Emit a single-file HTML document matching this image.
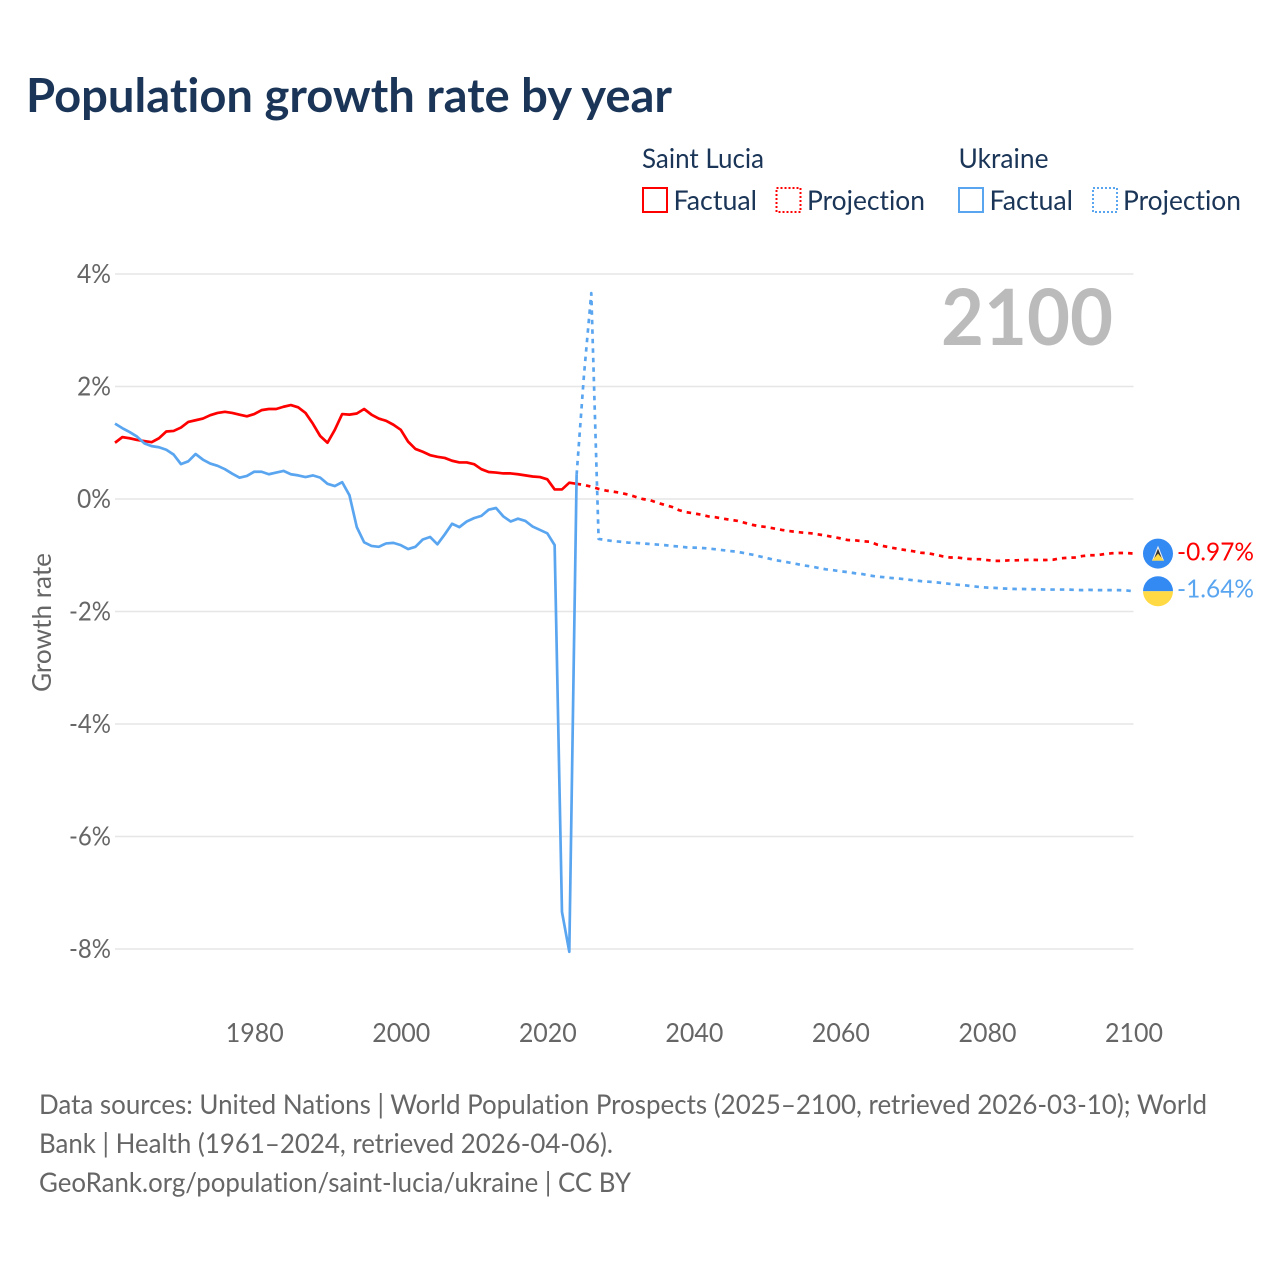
<!DOCTYPE html>
<html lang="en">
<head>
<meta charset="utf-8">
<title>Population growth rate by year</title>
<style>
html,body{margin:0;padding:0;background:#fff}
svg{display:block}
text{font-family:"Lato","Carlito","Liberation Sans",sans-serif;font-variant-ligatures:none;font-feature-settings:"liga" 0,"clig" 0}
</style>
</head>
<body>
<svg id="chart" xmlns="http://www.w3.org/2000/svg" width="1280" height="1280" viewBox="0 0 1280 1280">
  <rect x="0" y="0" width="1280" height="1280" fill="#ffffff"/>
  <text x="26" y="112" font-size="47" font-weight="700" fill="#1a3557" textLength="646" lengthAdjust="spacingAndGlyphs">Population growth rate by year</text>

  <g font-size="27" fill="#1a3557">
    <text x="642" y="168" textLength="122" lengthAdjust="spacingAndGlyphs">Saint Lucia</text>
    <rect x="643" y="188" width="24" height="24" fill="none" stroke="#ff0000" stroke-width="2"/>
    <text x="673.5" y="210" textLength="83.5" lengthAdjust="spacingAndGlyphs">Factual</text>
    <rect x="776.5" y="188" width="24" height="24" fill="none" stroke="#ff0000" stroke-width="2" stroke-dasharray="2 2"/>
    <text x="807" y="210" textLength="118" lengthAdjust="spacingAndGlyphs">Projection</text>
    <text x="958.5" y="168" textLength="90" lengthAdjust="spacingAndGlyphs">Ukraine</text>
    <rect x="959" y="188" width="24" height="24" fill="none" stroke="#5aa5f0" stroke-width="2"/>
    <text x="989.5" y="210" textLength="83.5" lengthAdjust="spacingAndGlyphs">Factual</text>
    <rect x="1093" y="188" width="24" height="24" fill="none" stroke="#5aa5f0" stroke-width="2" stroke-dasharray="2 2"/>
    <text x="1123" y="210" textLength="118" lengthAdjust="spacingAndGlyphs">Projection</text>
  </g>

  <g id="grid"></g>
  <g id="y-axis"></g>
  <g id="x-axis"></g>
  <text transform="translate(51,692) rotate(-90)" x="0" y="0" font-size="26" fill="#666666" textLength="139" lengthAdjust="spacingAndGlyphs">Growth rate</text>
  <text x="941" y="345" font-size="78" font-weight="700" fill="#bbbbbb" textLength="172" lengthAdjust="spacingAndGlyphs">2100</text>
  <g id="series"></g>
  <g id="end-labels"></g>

  <g font-size="27" fill="#666666">
    <text x="39" y="1114" textLength="1168" lengthAdjust="spacingAndGlyphs">Data sources: United Nations | World Population Prospects (2025–2100, retrieved 2026-03-10); World</text>
    <text x="39" y="1153" textLength="574" lengthAdjust="spacingAndGlyphs">Bank | Health (1961–2024, retrieved 2026-04-06).</text>
    <text x="39" y="1192" textLength="592" lengthAdjust="spacingAndGlyphs">GeoRank.org/population/saint-lucia/ukraine | CC BY</text>
  </g>
</svg>

<script>
const yTicks = [4, 2, 0, -2, -4, -6, -8];
const xTicks = [1980, 2000, 2020, 2040, 2060, 2080, 2100];
const factualStartYear = 1961;
const projectionStartYear = 2024;

const saintLuciaFactual = [
  1.00, 1.10, 1.08, 1.05, 1.03, 1.01, 1.08, 1.20, 1.21, 1.27,
  1.37, 1.40, 1.43, 1.49, 1.53, 1.55, 1.53, 1.50, 1.47, 1.51,
  1.58, 1.60, 1.60, 1.64, 1.67, 1.63, 1.53, 1.34, 1.12, 1.00,
  1.23, 1.51, 1.50, 1.52, 1.60, 1.50, 1.43, 1.39, 1.32, 1.23,
  1.02, 0.89, 0.84, 0.78, 0.75, 0.73, 0.68, 0.65, 0.65, 0.62,
  0.53, 0.48, 0.47, 0.455, 0.455, 0.44, 0.42, 0.40, 0.39, 0.35,
  0.17, 0.17, 0.29, 0.27
];
const ukraineFactual = [
  1.34, 1.26, 1.19, 1.11, 0.99, 0.94, 0.92, 0.875, 0.79, 0.62,
  0.67, 0.80, 0.70, 0.63, 0.59, 0.53, 0.45, 0.38, 0.41, 0.485,
  0.485, 0.44, 0.47, 0.50, 0.44, 0.42, 0.39, 0.42, 0.38, 0.27,
  0.23, 0.30, 0.065, -0.50, -0.77, -0.835, -0.85, -0.79, -0.78, -0.82,
  -0.89, -0.85, -0.72, -0.675, -0.805, -0.63, -0.44, -0.50, -0.40, -0.34,
  -0.30, -0.19, -0.16, -0.31, -0.40, -0.35, -0.39, -0.49, -0.55, -0.61,
  -0.82, -7.34, -8.05, 0.43
];
const saintLuciaProjection = [
  0.27, 0.25, 0.22, 0.18, 0.15, 0.13, 0.11, 0.08, 0.04, 0.00,
  -0.02, -0.065, -0.105, -0.14, -0.20, -0.235, -0.255, -0.28, -0.31, -0.325,
  -0.35, -0.37, -0.39, -0.425, -0.46, -0.485, -0.50, -0.525, -0.55, -0.57,
  -0.585, -0.60, -0.61, -0.63, -0.65, -0.675, -0.70, -0.73, -0.735, -0.75,
  -0.76, -0.81, -0.84, -0.866, -0.89, -0.91, -0.93, -0.955, -0.965, -0.99,
  -1.02, -1.04, -1.04, -1.06, -1.07, -1.07, -1.085, -1.10, -1.10, -1.09,
  -1.09, -1.085, -1.08, -1.085, -1.085, -1.08, -1.055, -1.045, -1.04, -1.015,
  -1.00, -1.00, -0.98, -0.965, -0.96, -0.96, -0.97
];
const ukraineProjection = [
  0.43, 2.2, 3.66, -0.71, -0.73, -0.75, -0.76, -0.775, -0.78, -0.79,
  -0.80, -0.81, -0.82, -0.835, -0.845, -0.86, -0.865, -0.87, -0.88, -0.895,
  -0.91, -0.925, -0.94, -0.965, -0.99, -1.02, -1.05, -1.085, -1.105, -1.13,
  -1.155, -1.18, -1.20, -1.225, -1.25, -1.265, -1.285, -1.30, -1.32, -1.335,
  -1.36, -1.38, -1.39, -1.405, -1.415, -1.43, -1.445, -1.46, -1.47, -1.48,
  -1.495, -1.51, -1.525, -1.535, -1.55, -1.565, -1.575, -1.58, -1.59, -1.595,
  -1.60, -1.60, -1.605, -1.605, -1.61, -1.61, -1.61, -1.61, -1.615, -1.62,
  -1.615, -1.62, -1.62, -1.62, -1.62, -1.625, -1.64
];

const SVG_NS = 'http://www.w3.org/2000/svg';
const plotLeft = 115;
const plotRight = 1133.5;
const xScale = function (year) {
  return plotLeft + (year - 1961) * (plotRight - plotLeft) / (2100 - 1961);
};
const yScale = function (value) {
  return 499 - value * 56.25;
};

function svgEl(tag, attrs, parent) {
  const el = document.createElementNS(SVG_NS, tag);
  Object.keys(attrs).forEach(function (k) { el.setAttribute(k, attrs[k]); });
  parent.appendChild(el);
  return el;
}

function linePath(startYear, values) {
  return values.map(function (v, i) {
    return (i ? 'L' : 'M') + xScale(startYear + i).toFixed(2) + ' ' + yScale(v).toFixed(2);
  }).join(' ');
}

const gridGroup = document.getElementById('grid');
const yAxisGroup = document.getElementById('y-axis');
const xAxisGroup = document.getElementById('x-axis');
const seriesGroup = document.getElementById('series');
const endGroup = document.getElementById('end-labels');

yTicks.forEach(function (t) {
  const line = svgEl('line', { x1: plotLeft, x2: plotRight, y1: yScale(t), y2: yScale(t), stroke: '#e6e6e6', 'stroke-width': 1.5 }, gridGroup);
  
  
  const label = t + '%';
  const txt = svgEl('text', { x: 111, y: yScale(t) + 9, 'text-anchor': 'end', 'font-size': 26, fill: '#666666', textLength: t < 0 ? 42 : 34, lengthAdjust: 'spacingAndGlyphs' }, yAxisGroup);
  txt.textContent = label;
  
  
});

xTicks.forEach(function (t) {
  const txt = svgEl('text', { x: xScale(t) + 0.5, y: 1042, 'text-anchor': 'middle', 'font-size': 26, fill: '#666666', textLength: 58, lengthAdjust: 'spacingAndGlyphs' }, xAxisGroup);
  txt.textContent = String(t);
  
  
});

const lineBase = { fill: 'none', 'stroke-width': 2.7, 'stroke-linejoin': 'round' };

const ukraineProjLine = svgEl('path', Object.assign({ d: linePath(projectionStartYear, ukraineProjection), stroke: '#5aa5f0', 'stroke-dasharray': '4.5 5' }, lineBase), seriesGroup);



const luciaProjLine = svgEl('path', Object.assign({ d: linePath(projectionStartYear, saintLuciaProjection), stroke: '#ff0000', 'stroke-dasharray': '4.5 5' }, lineBase), seriesGroup);



const luciaLine = svgEl('path', Object.assign({ d: linePath(factualStartYear, saintLuciaFactual), stroke: '#ff0000' }, lineBase), seriesGroup);



const ukraineLine = svgEl('path', Object.assign({ d: linePath(factualStartYear, ukraineFactual), stroke: '#5aa5f0' }, lineBase), seriesGroup);



const luciaEnd = saintLuciaProjection[saintLuciaProjection.length - 1];
const ukraineEnd = ukraineProjection[ukraineProjection.length - 1];
const markerX = 1158;

const luciaFlag = svgEl('g', { transform: 'translate(' + markerX + ',' + yScale(luciaEnd) + ')' }, endGroup);


svgEl('circle', { r: 15, cx: 0, cy: 0, fill: '#338af3' }, luciaFlag);
svgEl('polygon', { points: '0,-8 6,7 -6,7', fill: '#f0f0f0' }, luciaFlag);
svgEl('polygon', { points: '0,-5 4,5 -4,5', fill: '#333333' }, luciaFlag);
svgEl('polygon', { points: '0,0 6,7 -6,7', fill: '#ffda44' }, luciaFlag);

const ukraineFlag = svgEl('g', { transform: 'translate(' + markerX + ',' + yScale(ukraineEnd) + ')' }, endGroup);


svgEl('path', { d: 'M-15 0 A15 15 0 0 1 15 0 Z', fill: '#338af3' }, ukraineFlag);
svgEl('path', { d: 'M-15 0 A15 15 0 0 0 15 0 Z', fill: '#ffda44' }, ukraineFlag);

const luciaLabel = svgEl('text', { x: 1177, y: yScale(luciaEnd) + 7, 'font-size': 25, fill: '#ff0000', textLength: 77, lengthAdjust: 'spacingAndGlyphs' }, endGroup);
luciaLabel.textContent = luciaEnd.toFixed(2) + '%';



const ukraineLabel = svgEl('text', { x: 1177, y: yScale(ukraineEnd) + 6, 'font-size': 25, fill: '#5aa5f0', textLength: 77, lengthAdjust: 'spacingAndGlyphs' }, endGroup);
ukraineLabel.textContent = ukraineEnd.toFixed(2) + '%';


</script>
</body>
</html>
